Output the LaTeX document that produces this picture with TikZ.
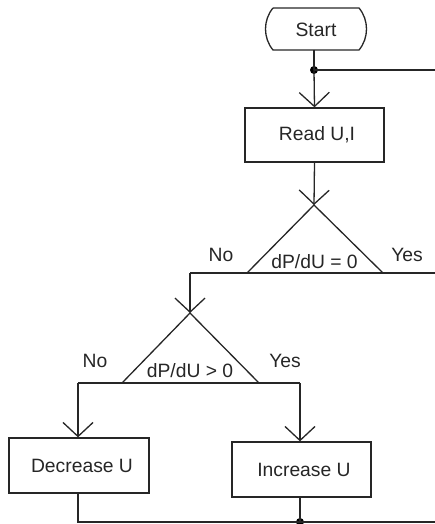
\documentclass[tikz,border=0pt]{standalone}
\usepackage{fontspec}
\setmainfont{Liberation Sans}
\usetikzlibrary{arrows.meta}
\begin{document}
\begin{tikzpicture}[x=1pt,y=-1pt,
  every node/.style={font=\fontsize{19.3}{22}\selectfont, text=black!85},
  ln/.style={line width=1.3pt, draw=black!85},
  arr/.style={ln, -{Straight Barb[length=14pt,width=30pt,line width=1.3pt]}},
  box/.style={ln, draw, rectangle},
  lbl/.style={inner sep=0pt},
  dot/.style={circle, fill=black, inner sep=0pt, minimum size=8pt}]
\useasboundingbox (0,0) rectangle (435,524);
% Start terminal
\node[lbl] (start) at (316,30) {Start};
\draw[ln] (273,8) -- (359,8) .. controls (369,20) and (369,38) .. (359,50) -- (273,50) .. controls (263,38) and (263,20) .. (273,8);
\coordinate (sbot) at (314,50);
\node[dot] (j1) at (314,70) {};
\coordinate (e1) at (435,70);
% Read box
\node[box, minimum width=139pt, minimum height=54pt, inner sep=0pt] (read) at (314.5,135) {\hspace{5pt}Read U,I};
% Decision 1
\coordinate (ap1) at (314,205);
\coordinate (bl1) at (247,273);
\coordinate (br1) at (383,273);
\draw[ln] (bl1) -- (ap1) -- (br1);
\node[lbl] (d1) at (314.5,262) {dP/dU = 0};
\node[lbl] (no1) at (221,255) {No};
\node[lbl] (yes1) at (407,255) {Yes};
\coordinate (n1) at (190,273);
\coordinate (e2) at (435,273);
% Decision 2
\coordinate (ap2) at (190,313);
\coordinate (bl2) at (122,383);
\coordinate (br2) at (259,383);
\draw[ln] (bl2) -- (ap2) -- (br2);
\node[lbl] (d2) at (190,371) {dP/dU > 0};
\node[lbl] (no2) at (95,361) {No};
\node[lbl] (yes2) at (285,361) {Yes};
\coordinate (n2) at (78,383);
\coordinate (y2) at (300,383);
% Action boxes
\node[box, minimum width=140pt, minimum height=55pt, inner sep=0pt] (dec) at (79,465.5) {\hspace{6pt}Decrease U};
\node[box, minimum width=139pt, minimum height=55pt, inner sep=0pt] (inc) at (301.5,469.5) {\hspace{5pt}Increase U};
\node[dot] (j2) at (300,522) {};
\coordinate (c3) at (78,522);
\coordinate (e3) at (435,522);
% Connectors
\draw[ln] (sbot) -- (j1.center);
\draw[arr] (j1.center) -- (read.north);
\draw[ln] (j1.center) -- (e1);
\draw[arr] (read.south) -- (ap1);
\draw[ln] (e2) -- (n1);
\draw[arr] (n1) -- (ap2);
\draw[ln] (n2) -- (y2);
\draw[arr] (n2) -- (dec.north -| n2);
\draw[arr] (y2) -- (inc.north -| y2);
\draw[ln] (dec.south -| c3) -- (c3) -- (e3);
\draw[ln] (inc.south -| j2) -- (j2.center);
\end{tikzpicture}
\end{document}
